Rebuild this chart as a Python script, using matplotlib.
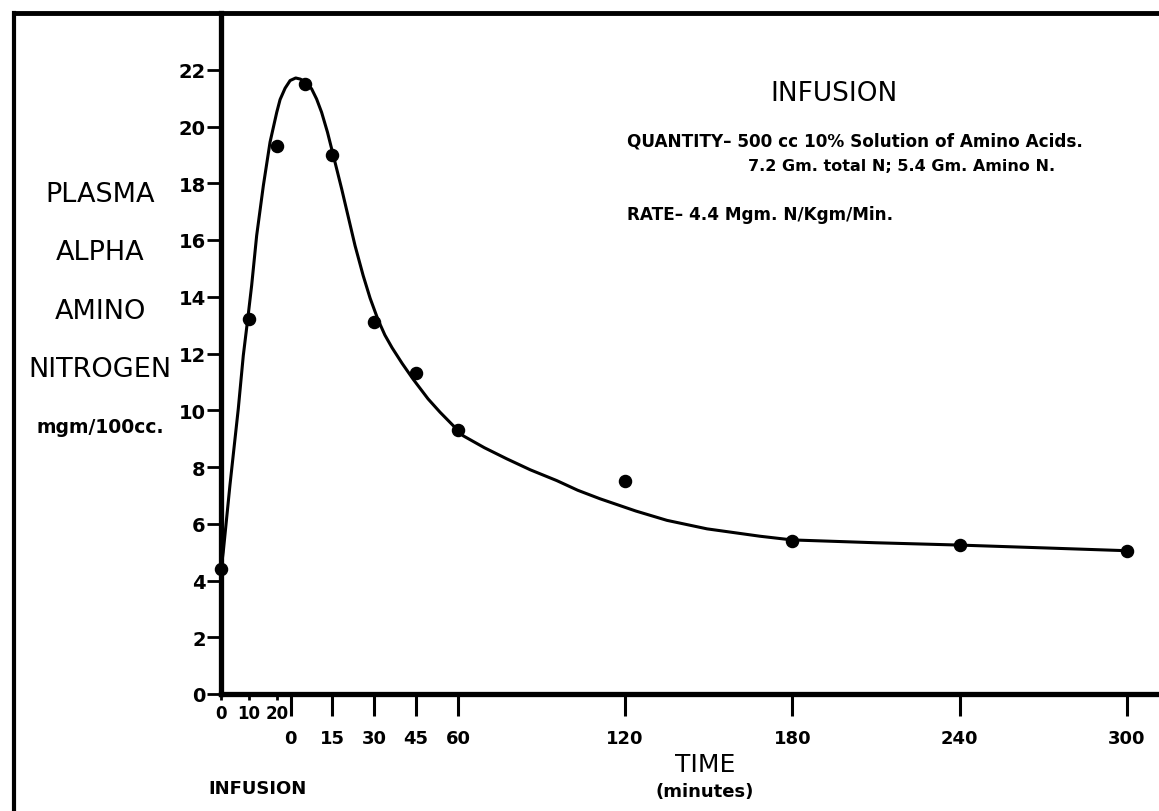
import matplotlib
matplotlib.use("Agg")
import matplotlib.pyplot as plt
from matplotlib.lines import Line2D

W, H = 1159, 812
INFUSION_END = 25  # infusion minutes before the post-infusion clock restarts at 0

# measured points
infusion_min = [0, 10, 20]
infusion_val = [4.4, 13.2, 19.3]
post_min = [5, 15, 30, 45, 60, 120, 180, 240, 300]
post_val = [21.5, 19.0, 13.1, 11.3, 9.3, 7.5, 5.4, 5.25, 5.05]

# hand drawn curve (minutes from start of infusion)
curve_min = [0, 0.8, 3.2, 6.2, 8.0, 9.6, 11.0, 12.8, 15.2, 17.6, 20.0, 21.2,
             23.0, 24.8, 26.8, 28.5, 30.1, 32.5, 34.3, 36.1, 38.2, 40.3, 43.3,
             48.1, 51.0, 53.5, 56.3, 58.8, 61.4, 65.0, 68.9, 74.3, 78.6, 86.9,
             94.5, 102.5, 111.0, 120.5, 128.0, 136.0, 148.8, 160.0, 174.4,
             193.4, 204.9, 235.0, 264.4, 295.0, 325.0]
curve_val = [4.4, 5.0, 7.35, 10.05, 11.93, 13.22, 14.4, 16.16, 17.92, 19.45,
             20.5, 20.95, 21.35, 21.62, 21.71, 21.67, 21.57, 21.33, 20.97,
             20.5, 19.8, 18.98, 17.8, 15.8, 14.75, 13.95, 13.2, 12.65, 12.2,
             11.65, 11.1, 10.4, 9.93, 9.1, 8.68, 8.29, 7.9, 7.52, 7.18, 6.88,
             6.45, 6.12, 5.82, 5.56, 5.43, 5.33, 5.25, 5.15, 5.05]

y_ticks = list(range(0, 24, 2))
infusion_ticks = [0, 10, 20]
post_ticks = [0, 15, 30, 45, 60, 120, 180, 240, 300]


def fx(x):
    return x / W


def fy(y):
    return 1 - y / H


fig = plt.figure(figsize=(W / 100, H / 100), dpi=100, facecolor="white")
ax = fig.add_axes([fx(221), fy(695), (W - 221) / W, (695 - 14) / H])
ax.set_xlim(0, (W - 221) / 2.787)
ax.set_ylim(0, 24)

ax.plot(curve_min, curve_val, color="black", lw=2.2, solid_joinstyle="round",
        solid_capstyle="round", zorder=2)
ax.plot(infusion_min, infusion_val, "o", color="black", ms=8.7, zorder=3, clip_on=False)
ax.plot([INFUSION_END + m for m in post_min], post_val, "o", color="black",
        ms=8.7, zorder=3, clip_on=False)

for side in ["top", "right"]:
    ax.spines[side].set_visible(False)
for side in ["left", "bottom"]:
    ax.spines[side].set_linewidth(3.8)

ax.set_yticks(y_ticks)
ax.set_yticklabels([str(v) for v in y_ticks])
ax.tick_params(axis="y", direction="out", length=10, width=2, pad=1, labelsize=14)

ax.set_xticks([INFUSION_END + m for m in post_ticks])
ax.set_xticklabels([str(m) for m in post_ticks])
ax.set_xticks(infusion_ticks, minor=True)
ax.set_xticklabels([str(m) for m in infusion_ticks], minor=True)
ax.tick_params(axis="x", which="major", direction="out", length=16, width=2.2,
               pad=9, labelsize=13)
ax.tick_params(axis="x", which="minor", direction="out", length=4, width=2,
               pad=3, labelsize=12)
for lab in ax.get_xticklabels(which="both") + ax.get_yticklabels():
    lab.set_fontweight("bold")

# frame of the original sheet
fig.add_artist(Line2D([fx(14), 1], [fy(14), fy(14)], transform=fig.transFigure,
                      color="black", lw=3.5, solid_capstyle="projecting"))
fig.add_artist(Line2D([fx(14), fx(14)], [fy(14), 0], transform=fig.transFigure,
                      color="black", lw=3, solid_capstyle="projecting"))

for word, y in [("PLASMA", 195), ("ALPHA", 253), ("AMINO", 312), ("NITROGEN", 370)]:
    fig.text(fx(100), fy(y), word, ha="center", va="center", fontsize=19.5)
fig.text(fx(100), fy(428), "mgm/100cc.", ha="center", va="center",
         fontsize=13.5, fontweight="bold")

fig.text(fx(834), fy(94), "INFUSION", ha="center", va="center", fontsize=19)
fig.text(fx(627), fy(142), "QUANTITY\u2013 500 cc 10% Solution of Amino Acids.",
         ha="left", va="center", fontsize=12.2, fontweight="bold")
fig.text(fx(748), fy(167), "7.2 Gm. total N; 5.4 Gm. Amino N.",
         ha="left", va="center", fontsize=11.5, fontweight="bold")
fig.text(fx(627), fy(215), "RATE\u2013 4.4 Mgm. N/Kgm/Min.",
         ha="left", va="center", fontsize=12.2, fontweight="bold")

fig.text(fx(705), fy(765), "TIME", ha="center", va="center", fontsize=18)
fig.text(fx(705), fy(792), "(minutes)", ha="center", va="center",
         fontsize=13, fontweight="bold")
fig.text(fx(258), fy(789), "INFUSION", ha="center", va="center",
         fontsize=13, fontweight="bold")

fig.savefig("out.png", dpi=100, facecolor="white")
